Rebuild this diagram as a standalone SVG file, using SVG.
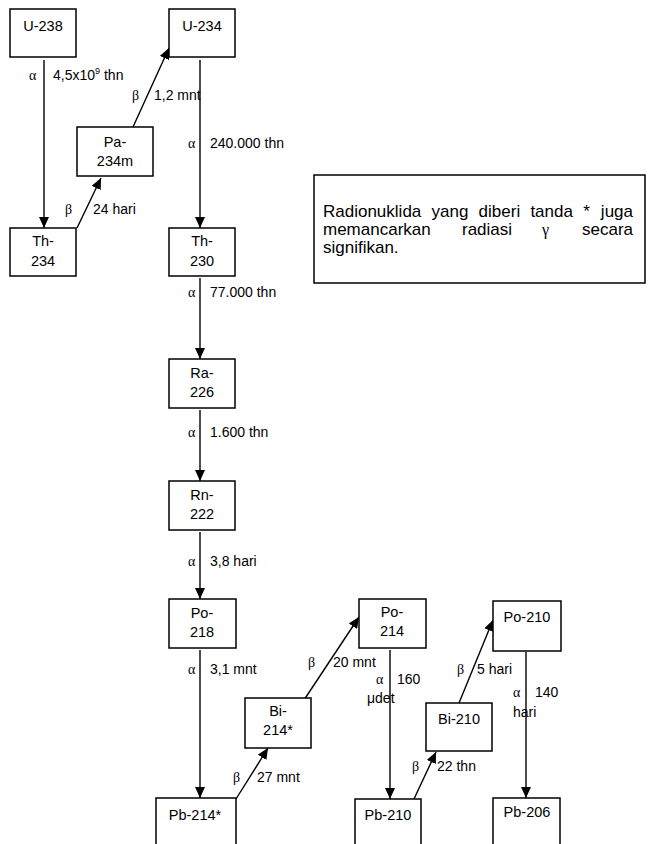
<svg xmlns="http://www.w3.org/2000/svg" width="648" height="844" viewBox="0 0 648 844">
<style>
.box{fill:#fff;stroke:#000;stroke-width:1.5}
.nt{font-family:"Liberation Sans",Arial,sans-serif;font-size:14.5px;fill:#000;text-anchor:middle}
.lb{font-family:"Liberation Sans",Arial,sans-serif;font-size:14px;fill:#000}
.gr{font-family:"Liberation Serif","Times New Roman",serif;font-size:14px;fill:#000}
.cl{font-family:"Liberation Sans",Arial,sans-serif;font-size:17px;fill:#000}
.ln{stroke:#000;stroke-width:1.4;fill:none;marker-end:url(#ah)}
</style>
<defs>
<marker id="ah" markerUnits="userSpaceOnUse" markerWidth="12" markerHeight="10" refX="11" refY="5" orient="auto">
<path d="M0,0 L11,5 L0,10 Z" fill="#000"/>
</marker>
</defs>
<g id="connectors">
<line class="ln" x1="44" y1="60" x2="44" y2="228"/>
<line class="ln" x1="77" y1="228" x2="101" y2="178"/>
<line class="ln" x1="133" y1="127" x2="169" y2="48"/>
<line class="ln" x1="200" y1="60" x2="200" y2="228"/>
<line class="ln" x1="200" y1="278" x2="200" y2="359"/>
<line class="ln" x1="200" y1="410" x2="200" y2="481"/>
<line class="ln" x1="200" y1="532" x2="200" y2="599"/>
<line class="ln" x1="200" y1="650" x2="200" y2="798"/>
<line class="ln" x1="236" y1="799" x2="268" y2="748"/>
<line class="ln" x1="302" y1="703" x2="359" y2="617"/>
<line class="ln" x1="390" y1="650" x2="390" y2="799"/>
<line class="ln" x1="414" y1="799" x2="436" y2="752"/>
<line class="ln" x1="459" y1="703" x2="493" y2="620"/>
<line class="ln" x1="526" y1="652" x2="526" y2="798"/>
</g>
<g id="labels">
<text class="gr" x="29" y="80">α</text><text class="lb" x="53" y="80">4,5x10<tspan font-size="9" dy="-6">9</tspan><tspan dy="6"> thn</tspan></text>
<text class="gr" x="132" y="100">β</text><text class="lb" x="154" y="100">1,2 mnt</text>
<text class="gr" x="65" y="214">β</text><text class="lb" x="93" y="214">24 hari</text>
<text class="gr" x="188" y="148">α</text><text class="lb" x="210" y="148">240.000 thn</text>
<text class="gr" x="188" y="297">α</text><text class="lb" x="210" y="297">77.000 thn</text>
<text class="gr" x="188" y="437">α</text><text class="lb" x="210" y="437">1.600 thn</text>
<text class="gr" x="188" y="566">α</text><text class="lb" x="210" y="566">3,8 hari</text>
<text class="gr" x="188" y="674">α</text><text class="lb" x="210" y="674">3,1 mnt</text>
<text class="gr" x="308" y="667">β</text><text class="lb" x="333" y="667">20 mnt</text>
<text class="gr" x="376" y="684">α</text><text class="lb" x="397" y="684">160</text>
<text class="lb" x="367" y="703">μdet</text>
<text class="gr" x="457" y="674">β</text><text class="lb" x="477" y="674">5 hari</text>
<text class="gr" x="513" y="697">α</text><text class="lb" x="535" y="697">140</text>
<text class="lb" x="513" y="717">hari</text>
<text class="gr" x="412" y="771">β</text><text class="lb" x="437" y="771">22 thn</text>
<text class="gr" x="233" y="782">β</text><text class="lb" x="257" y="782">27 mnt</text>
</g>
<g id="U-238"><rect class="box" x="10" y="9" width="66" height="48"/><text class="nt" x="43" y="31">U-238</text></g>
<g id="U-234"><rect class="box" x="169" y="9" width="66" height="48"/><text class="nt" x="202" y="31">U-234</text></g>
<g id="Pa-234m"><rect class="box" x="77" y="127" width="76" height="49"/><text class="nt" x="115" y="147">Pa-</text><text class="nt" x="115" y="166">234m</text></g>
<g id="Th-234"><rect class="box" x="10" y="228" width="66" height="48"/><text class="nt" x="43" y="246">Th-</text><text class="nt" x="43" y="266">234</text></g>
<g id="Th-230"><rect class="box" x="169" y="228" width="66" height="48"/><text class="nt" x="202" y="246">Th-</text><text class="nt" x="202" y="266">230</text></g>
<g id="Ra-226"><rect class="box" x="169" y="359" width="66" height="49"/><text class="nt" x="202" y="378">Ra-</text><text class="nt" x="202" y="397">226</text></g>
<g id="Rn-222"><rect class="box" x="169" y="481" width="66" height="49"/><text class="nt" x="202" y="500">Rn-</text><text class="nt" x="202" y="519">222</text></g>
<g id="Po-218"><rect class="box" x="169" y="599" width="67" height="49"/><text class="nt" x="202" y="618">Po-</text><text class="nt" x="202" y="637">218</text></g>
<g id="Po-214"><rect class="box" x="359" y="599" width="67" height="49"/><text class="nt" x="392" y="617">Po-</text><text class="nt" x="392" y="636">214</text></g>
<g id="Po-210"><rect class="box" x="493" y="601" width="68" height="50"/><text class="nt" x="527" y="622">Po-210</text></g>
<g id="Bi-214"><rect class="box" x="245" y="698" width="66" height="50"/><text class="nt" x="278" y="716">Bi-</text><text class="nt" x="278" y="735">214*</text></g>
<g id="Bi-210"><rect class="box" x="426" y="703" width="66" height="48"/><text class="nt" x="459" y="724">Bi-210</text></g>
<g id="Pb-214"><rect class="box" x="156" y="798" width="80" height="50"/><text class="nt" x="195" y="820">Pb-214*</text></g>
<g id="Pb-210"><rect class="box" x="355" y="799" width="66" height="50"/><text class="nt" x="388" y="820">Pb-210</text></g>
<g id="Pb-206"><rect class="box" x="493" y="798" width="67" height="50"/><text class="nt" x="527" y="817">Pb-206</text></g>
<g id="note">
<rect class="box" x="314" y="175" width="331" height="108"/>
<text class="cl" y="217"><tspan x="323">Radionuklida</tspan><tspan x="431.5">yang</tspan><tspan x="478.6">diberi</tspan><tspan x="530.4">tanda</tspan><tspan x="583.2">*</tspan><tspan x="633" text-anchor="end">juga</tspan></text>
<text class="cl" y="235" x="323">memancarkan</text>
<text class="cl" y="235" x="462">radiasi</text>
<text class="cl" y="235" x="633" text-anchor="end">secara</text>
<text y="235" x="542" font-family="'Liberation Serif','Times New Roman',serif" font-size="16px">γ</text>
<text class="cl" y="253" x="323">signifikan.</text>
</g>
</svg>
